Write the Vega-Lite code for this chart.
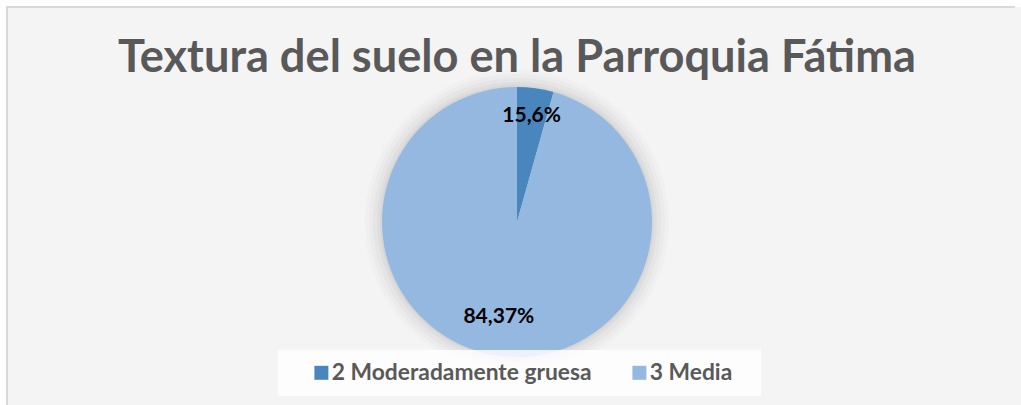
{
  "$schema": "https://vega.github.io/schema/vega-lite/v6.json",
  "width": 1020,
  "height": 430,
  "autosize": "none",
  "padding": {"left": 7, "top": 7, "right": -6, "bottom": -32},
  "background": "white",
  "view": {"fill": "#f4f4f4", "stroke": "#d9d9d9", "strokeWidth": 2, "strokeDash": [1008, 1446, 460, 2000], "strokeDashOffset": 0},
  "config": {
    "view": {"fill": "#f4f4f4", "stroke": "#d9d9d9", "strokeWidth": 2, "strokeDash": [1008, 1446, 460, 2000], "strokeDashOffset": 0}
  },
  "title": {
    "text": "Textura del suelo en la Parroquia Fátima",
    "font": "Lato",
    "fontSize": 45.2,
    "fontWeight": "bold",
    "color": "#595959",
    "anchor": "middle",
    "frame": "group",
    "offset": -74
  },
  "data": {
    "values": [
      {"textura": "2 Moderadamente gruesa", "porcentaje": 4.37, "etiqueta": "15,6%"},
      {"textura": "3 Media", "porcentaje": 95.63, "etiqueta": "84,37%"}
    ]
  },
  "encoding": {
    "theta": {"field": "porcentaje", "type": "quantitative", "stack": true},
    "order": {"field": "textura", "type": "nominal"}
  },
  "layer": [
    {"mark": {"type": "arc", "radius": 152, "fill": "#7f7f7f", "opacity": 0.03}},
    {"mark": {"type": "arc", "radius": 148, "fill": "#7f7f7f", "opacity": 0.04}},
    {"mark": {"type": "arc", "radius": 144, "fill": "#7f7f7f", "opacity": 0.05}},
    {"mark": {"type": "arc", "radius": 140, "fill": "#7f7f7f", "opacity": 0.06}},
    {"mark": {"type": "arc", "radius": 137, "fill": "#7f7f7f", "opacity": 0.08}},
    {
      "mark": {"type": "arc", "radius": 135},
      "encoding": {
        "color": {
          "field": "textura",
          "type": "nominal",
          "scale": {"domain": ["2 Moderadamente gruesa", "3 Media"], "range": ["#4a86be", "#95b8e0"]},
          "legend": {
            "title": "\u00a0",
            "titleOrient": "right",
            "titleFontSize": 10,
            "titlePadding": 18,
            "orient": "none",
            "legendX": 271,
            "legendY": 343,
            "direction": "horizontal",
            "fillColor": "rgba(255,255,255,0.82)",
            "padding": 11,
            "symbolType": "square",
            "symbolSize": 196,
            "symbolStrokeWidth": 0,
            "symbolOpacity": 1,
            "symbolOffset": 21,
            "labelFont": "Lato",
            "labelFontSize": 22.8,
            "labelFontWeight": "bold",
            "labelColor": "#595959",
            "labelLimit": 0,
            "labelOffset": -1,
            "columnPadding": 15
          }
        }
      }
    },
    {
      "mark": {"type": "text", "radius": 107, "font": "Lato", "fontSize": 21, "fontWeight": "bold", "color": "#000000"},
      "encoding": {
        "text": {"condition": {"test": "datum.textura == '2 Moderadamente gruesa'", "field": "etiqueta"}, "value": ""}
      }
    },
    {
      "mark": {"type": "text", "radius": 96, "dx": -5, "font": "Lato", "fontSize": 21, "fontWeight": "bold", "color": "#000000"},
      "encoding": {
        "text": {"condition": {"test": "datum.textura == '3 Media'", "field": "etiqueta"}, "value": ""}
      }
    }
  ]
}
